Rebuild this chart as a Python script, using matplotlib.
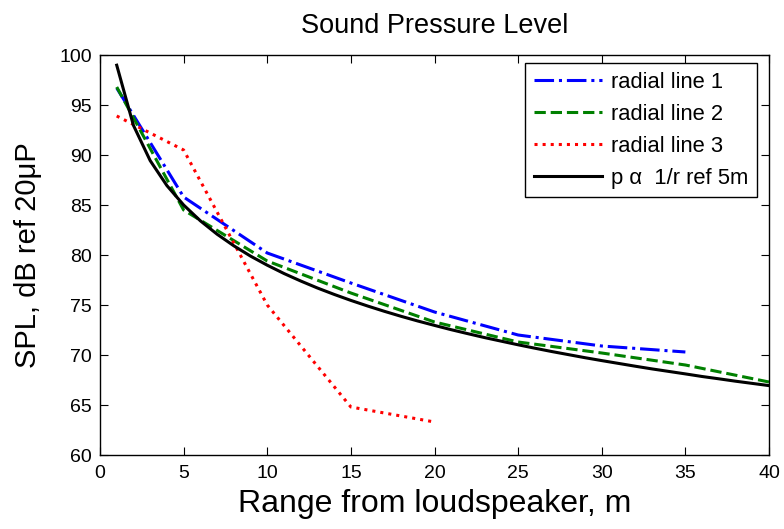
import matplotlib
matplotlib.use("Agg")
import matplotlib.pyplot as plt

plt.rcParams['font.family'] = ['Liberation Sans', 'DejaVu Sans']

# radial line 1
r1 = [1, 5, 10, 15, 20, 25, 30, 35]
spl1 = [96.7, 85.8, 80.2, 77.2, 74.3, 72.0, 70.9, 70.3]

# radial line 2
r2 = [1, 5, 10, 15, 20, 25, 30, 35, 40]
spl2 = [96.8, 84.5, 79.4, 76.2, 73.3, 71.3, 70.2, 69.0, 67.3]

# radial line 3
r3 = [1, 5, 10, 15, 20]
spl3 = [93.9, 90.5, 75.0, 64.8, 63.3]

# p alpha 1/r reference, ref 5 m
r_ref = list(range(1, 41))
spl_ref = [98.98, 92.96, 89.44, 86.94, 85.00, 83.42, 82.08, 80.92, 79.89, 78.98,
           78.15, 77.40, 76.70, 76.06, 75.46, 74.90, 74.37, 73.87, 73.40, 72.96,
           72.53, 72.13, 71.74, 71.38, 71.02, 70.68, 70.35, 70.04, 69.73, 69.44,
           69.16, 68.88, 68.61, 68.36, 68.11, 67.85, 67.62, 67.38, 67.16, 66.94]

fig = plt.figure(figsize=(7.84, 5.29), dpi=100)
ax = fig.add_axes([100 / 784, 74 / 529, 669 / 784, 400 / 529])

ax.plot(r1, spl1, color="#0000ff", linestyle="-.", linewidth=2.2, label="radial line 1")
ax.plot(r2, spl2, color="#008000", linestyle="--", linewidth=2.2, label="radial line 2")
ax.plot(r3, spl3, color="#ff0000", linestyle=":", linewidth=2.2, label="radial line 3")
ax.plot(r_ref, spl_ref, color="black", linestyle="-", linewidth=2.2,
        label="p \u03b1  1/r ref 5m")

ax.set_xlim(0, 40)
ax.set_ylim(60, 100)
ax.set_xticks(range(0, 41, 5))
ax.set_yticks(range(60, 101, 5))
ax.tick_params(direction="in", top=True, right=True, labelsize=14, length=6)
ax.tick_params(axis="x", pad=7)
ax.tick_params(axis="y", pad=6)
for s in ax.spines.values():
    s.set_linewidth(1.0)

ax.set_title("Sound Pressure Level", fontsize=19.5, pad=16)
ax.set_xlabel("Range from loudspeaker, m", fontsize=23, labelpad=5)
ax.set_ylabel("SPL, dB ref 20\u03bcP", fontsize=21, labelpad=12)

leg = ax.legend(loc="upper right", bbox_to_anchor=(657 / 669, 392 / 400),
                fontsize=15.8, fancybox=False, edgecolor="black", framealpha=1,
                handlelength=3.1, handletextpad=0.4, borderpad=0.4,
                labelspacing=0.5, borderaxespad=0)
leg.get_frame().set_linewidth(1.0)

fig.savefig("out.png", dpi=100)
